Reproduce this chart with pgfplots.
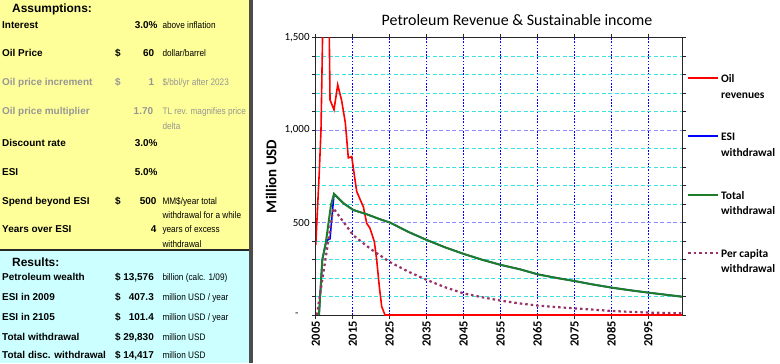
\documentclass[border=0pt]{standalone}
\usepackage{pgfplots}
\pgfplotsset{compat=1.18}
\usepackage{fontspec}
\setmainfont{Carlito}
\newfontfamily\arialf{Liberation Sans}
\newfontfamily\narrowf[FakeStretch=0.87]{Liberation Sans}
\definecolor{panelyellow}{RGB}{255,255,153}
\definecolor{panelcyan}{RGB}{204,255,255}
\definecolor{greytxt}{RGB}{150,150,150}
\definecolor{oilred}{RGB}{255,0,0}
\definecolor{esiblue}{RGB}{0,0,255}
\definecolor{totgreen}{RGB}{30,125,40}
\definecolor{plum}{RGB}{153,51,102}
\definecolor{gridcyan}{RGB}{60,225,225}
\definecolor{gridlav}{RGB}{140,140,255}
\newcommand\twol[2]{\begin{tabular}[t]{@{}l@{}}#1\\#2\end{tabular}}
\begin{document}
\begin{tikzpicture}[x=1bp,y=1bp]
\fill[white] (0,0) rectangle (780,363);
\useasboundingbox (0,0) rectangle (780,363);
\fill[panelyellow] (0,113) rectangle (250,363);
\fill[panelcyan] (0,0) rectangle (250,113);
\draw[line width=2.5bp, black!85] (0,113) -- (250,113);
\fill[black!70] (249,0) rectangle (253,363);
\tikzset{L/.style={anchor=base west,inner sep=0pt,font=\arialf\bfseries\fontsize{10}{12}\selectfont},
V/.style={anchor=base east,inner sep=0pt,font=\arialf\bfseries\fontsize{10}{12}\selectfont},
N/.style={anchor=base west,inner sep=0pt,font=\narrowf\fontsize{9.5}{12}\selectfont},
H/.style={anchor=base west,inner sep=0pt,font=\arialf\bfseries\fontsize{12}{14}\selectfont}}
% Assumptions
\node[H] at (12,350.4) {Assumptions:};
\node[L] at (2,334.4) {Interest}; \node[V] at (157.7,334.4) {3.0\%}; \node[N] at (162.3,334.4) {above inflation};
\node[L] at (2,306.1) {Oil Price}; \node[L] at (115,306.1) {\$}; \node[V] at (154.3,306.1) {60}; \node[N] at (162.3,306.1) {dollar/barrel};
\node[L,text=greytxt] at (2,277.1) {Oil price increment}; \node[L,text=greytxt] at (115,277.1) {\$}; \node[V,text=greytxt] at (154.3,277.1) {1}; \node[N,text=greytxt] at (162.3,277.1) {\$/bbl/yr after 2023};
\node[L,text=greytxt] at (2,248.4) {Oil price multiplier}; \node[V,text=greytxt] at (153.3,248.4) {1.70}; \node[N,text=greytxt] at (162.3,248.4) {TL rev. magnifies price}; \node[N,text=greytxt] at (162.3,233.1) {delta};
\node[L] at (2,216.7) {Discount rate}; \node[V] at (157.7,216.7) {3.0\%};
\node[L] at (2,187.7) {ESI}; \node[V] at (157.7,187.7) {5.0\%};
\node[L] at (2,158.7) {Spend beyond ESI}; \node[L] at (115,158.7) {\$}; \node[V] at (156.7,158.7) {500}; \node[N] at (162.3,158.7) {MM\$/year total}; \node[N] at (162.3,144.6) {withdrawal for a while};
\node[L] at (2,130.1) {Years over ESI}; \node[V] at (156.7,130.1) {4}; \node[N] at (162.3,130.1) {years of excess}; \node[N] at (162.3,115.6) {withdrawal};
% Results
\node[H] at (12,96.7) {Results:};
\node[L] at (2,82.7) {Petroleum wealth}; \node[L] at (115,82.7) {\$}; \node[V] at (154,82.7) {13,576}; \node[N] at (162.3,82.7) {billion (calc. 1/09)};
\node[L] at (2,62.1) {ESI in 2009}; \node[L] at (115,62.1) {\$}; \node[V] at (154,62.1) {407.3}; \node[N] at (162.3,62.1) {million USD / year};
\node[L] at (2,42.1) {ESI in 2105}; \node[L] at (115,42.1) {\$}; \node[V] at (154,42.1) {101.4}; \node[N] at (162.3,42.1) {million USD / year};
\node[L] at (2,22.7) {Total withdrawal}; \node[L] at (115,22.7) {\$}; \node[V] at (154,22.7) {29,830}; \node[N] at (162.3,22.7) {million USD};
\node[L] at (2,4.4) {Total disc. withdrawal}; \node[L] at (115,4.4) {\$}; \node[V] at (154,4.4) {14,417}; \node[N] at (162.3,4.4) {million USD};

\begin{axis}[
  at={(315.75bp,48bp)}, anchor=south west,
  scale only axis, width=366.25bp, height=277.3bp,
  xmin=2005, xmax=2104.1, ymin=0, ymax=1500,
  axis line style={black!85, line width=0.9bp},
  xtick={2005,2015,...,2095},
  xticklabels={2005,2015,2025,2035,2045,2055,2065,2075,2085,2095},
  xticklabel style={rotate=90, anchor=east, font=\bfseries\fontsize{12.5}{12.5}\selectfont, inner sep=2bp},
  ytick={0,500,1000,1500},
  yticklabels={{-\hspace*{11bp}},{500},{1,000},{1,500}},
  yticklabel style={font=\fontsize{11}{11}\selectfont, inner sep=2bp},
  minor ytick={100,200,...,1400},
  tick align=outside, major tick length=4bp, minor tick length=4bp,
  tick style={black!85, line width=0.7bp},
  xmajorgrids, ymajorgrids, yminorgrids,
  major x grid style={esiblue, dash pattern=on 1.6bp off 1.6bp, line width=0.8bp},
  major y grid style={gridlav, dash pattern=on 4bp off 2.5bp, line width=1bp},
  minor y grid style={gridcyan, dash pattern=on 4bp off 2.5bp, line width=1bp},
  ylabel={Million USD},
  ylabel style={at={(axis description cs:-0.122,0.5)}, anchor=center, font=\bfseries\fontsize{15}{15}\selectfont},
  title={Petroleum Revenue \& Sustainable income},
  title style={at={(axis description cs:0.5495,1.042)}, anchor=center, font=\fontsize{16}{16}\selectfont},
  legend image code/.code={\draw[#1] (0bp,0bp) -- (30bp,0bp);},
  legend style={at={(axis description cs:1.013,0.885)}, anchor=north west, draw=none, fill=none,
     font=\bfseries\fontsize{11.5}{15.5}\selectfont, row sep=42bp, inner sep=0pt,
     nodes={inner sep=2bp}},
  legend cell align=left,
]
\addplot[oilred, line width=1.6bp] coordinates {
(2005,380) (2005.96,776) (2006.42,1000) (2006.88,1550) (2007.4,2300) (2008.2,2300) (2008.67,1500)
(2008.86,1164) (2009.94,1110) (2010.94,1245) (2012,1160) (2013.0,1040) (2013.81,850) (2014.73,857)
(2015.62,731) (2016.08,668) (2017.44,605) (2017.87,586) (2018.79,496) (2019.68,469) (2020.85,397)
(2021.49,298) (2022.2,153) (2022.85,45) (2023.74,0) (2104.1,0)};
\addlegendentry{\twol{Oil}{revenues}}
\addplot[esiblue, line width=1.6bp] coordinates {
(2005.88,0) (2006.77,298) (2007.7,388) (2008.23,406) (2008.86,412) (2009.94,655)
(2012.46,605) (2015.16,568) (2018.79,545) (2022.39,518) (2025.1,500) (2030,450) (2035,406) (2040,366)
(2045.1,330) (2050,299) (2055.05,271) (2060.3,247) (2065.07,220) (2070,201) (2074.97,184) (2080,165)
(2085.1,148) (2090,134) (2095,121) (2100,109) (2104.1,99)};
\addlegendentry{\twol{ESI}{withdrawal}}
\addplot[totgreen, line width=2bp] coordinates {
(2005.88,0) (2006.77,298) (2007.7,388) (2009.13,596) (2009.94,655)
(2012.46,605) (2015.16,568) (2018.79,545) (2022.39,518) (2025.1,500) (2030,450) (2035,406) (2040,366)
(2045.1,330) (2050,299) (2055.05,271) (2060.3,247) (2065.07,220) (2070,201) (2074.97,184) (2080,165)
(2085.1,148) (2090,134) (2095,121) (2100,109) (2104.1,99)};
\addlegendentry{\twol{Total}{withdrawal}}
\addplot[plum, line width=2.2bp, dash pattern=on 2.5bp off 3bp] coordinates {
(2005.3,0) (2009.75,578) (2015.2,430) (2020,355) (2025,287) (2030,235) (2035,190) (2040,150)
(2045,117) (2050,96) (2055,78) (2060,63) (2065,51) (2070,43) (2075,36) (2080,29) (2085,22)
(2090,17) (2095,13) (2100,11) (2104.1,9)};
\addlegendentry{\twol{Per capita}{withdrawal}}
\end{axis}
\end{tikzpicture}
\end{document}
